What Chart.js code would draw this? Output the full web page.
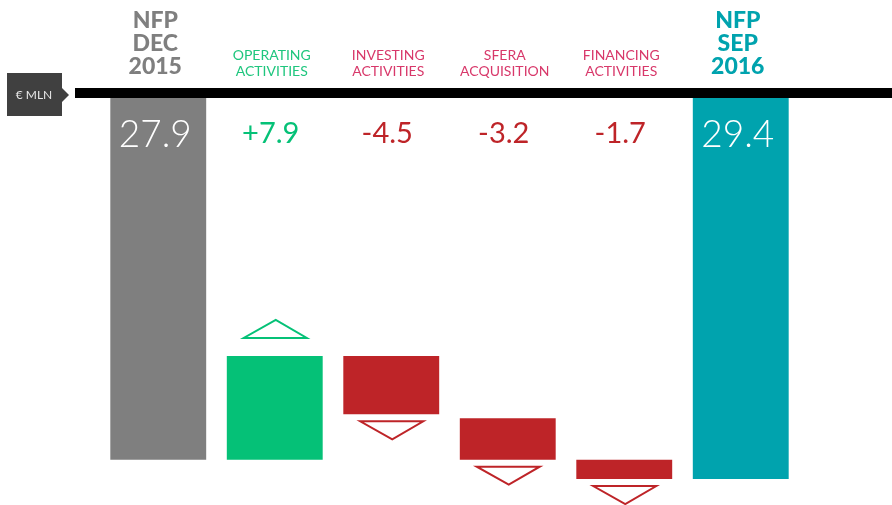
<!DOCTYPE html>
<html>
<head>
<meta charset="utf-8">
<script src="https://cdn.jsdelivr.net/npm/chart.js@4.4.1/dist/chart.umd.min.js"></script>
<style>
    html, body { margin: 0; padding: 0; background: #fff; }
    #wrap { width: 892px; height: 505px; position: relative; }
</style>
</head>
<body>
<div id="wrap"><canvas id="nfpChart"></canvas></div>
<script>
// header text above the black line, one array of lines per category
const categories = ['NFP DEC 2015', 'OPERATING ACTIVITIES', 'INVESTING ACTIVITIES', 'SFERA ACQUISITION', 'FINANCING ACTIVITIES', 'NFP SEP 2016'];
const headerLines = [
    ['NFP', 'DEC', '2015'],
    ['OPERATING', 'ACTIVITIES'],
    ['INVESTING', 'ACTIVITIES'],
    ['SFERA', 'ACQUISITION'],
    ['FINANCING', 'ACTIVITIES'],
    ['NFP', 'SEP', '2016']
];
const valueLabels = ['27.9', '+7.9', '-4.5', '-3.2', '-1.7', '29.4'];
// floating bars, € mln, axis runs downward from the black line
const barStart = [0, 19.9, 19.9, 24.7, 27.9, 0];
const barEnd = [27.9, 27.9, 24.4, 27.9, 29.4, 29.4];
const arrows = ['', 'up', 'down', 'down', 'down', ''];

const GRAY = '#7f7f7f';
const GREEN = '#05c177';
const RED = '#be2428';
const PINK = '#d8386a';
const TEAL = '#00a3ae';
const FONT = 'Lato, "Noto Sans", sans-serif';

const barColors = [GRAY, GREEN, RED, RED, RED, TEAL];
const headerColors = [GRAY, '#1fc67e', PINK, PINK, PINK, TEAL];
const valueColors = ['#ffffff', GREEN, RED, RED, RED, '#ffffff'];

const decorPlugin = {
    id: 'decor',
    beforeDatasetsDraw(chart) {
        const ctx = chart.ctx;
        ctx.save();
        // black base line
        ctx.fillStyle = '#000';
        ctx.fillRect(75, 88, chart.width - 75, 10);
        // unit tag
        ctx.fillStyle = '#404040';
        ctx.fillRect(7, 73, 55, 43);
        ctx.beginPath();
        ctx.moveTo(62, 88);
        ctx.lineTo(69, 95);
        ctx.lineTo(62, 102);
        ctx.closePath();
        ctx.fill();
        ctx.fillStyle = '#e6e6e6';
        ctx.font = '12px ' + FONT;
        ctx.textAlign = 'center';
        ctx.textBaseline = 'middle';
        ctx.fillText('€ MLN', 34, 95);
        ctx.restore();
    },
    afterDatasetsDraw(chart) {
        const ctx = chart.ctx;
        const bars = chart.getDatasetMeta(0).data;
        ctx.save();
        ctx.textAlign = 'center';
        ctx.textBaseline = 'alphabetic';
        bars.forEach((bar, i) => {
            const x = bar.x - 3;
            const lines = headerLines[i];
            ctx.fillStyle = headerColors[i];
            if (lines.length === 3) {
                ctx.font = '900 23px ' + FONT;
                lines.forEach((t, k) => ctx.fillText(t, x, 28 + k * 23));
            } else {
                ctx.font = '14px ' + FONT;
                lines.forEach((t, k) => ctx.fillText(t, x, 60 + k * 16));
            }
            // value label
            ctx.fillStyle = valueColors[i];
            if (i === 0 || i === bars.length - 1) {
                ctx.font = '300 37px ' + FONT;
                ctx.fillText(valueLabels[i], x, 147);
            } else {
                ctx.font = '29px ' + FONT;
                ctx.fillText(valueLabels[i], x - 1, 143);
            }
            // outline arrows
            if (arrows[i]) {
                const top = Math.min(bar.y, bar.base);
                const bottom = Math.max(bar.y, bar.base);
                ctx.strokeStyle = barColors[i];
                ctx.lineWidth = 2;
                ctx.beginPath();
                if (arrows[i] === 'up') {
                    const b = top - 18;
                    ctx.moveTo(bar.x - 31, b);
                    ctx.lineTo(bar.x + 32, b);
                    ctx.lineTo(bar.x + 1, b - 18);
                } else {
                    const t = bottom + 7;
                    ctx.moveTo(bar.x - 31, t);
                    ctx.lineTo(bar.x + 32, t);
                    ctx.lineTo(bar.x + 1, t + 18);
                }
                ctx.closePath();
                ctx.stroke();
            }
        });
        ctx.restore();
    }
};

new Chart(document.getElementById('nfpChart'), {
    type: 'bar',
    data: {
        labels: categories,
        datasets: [{
            data: barStart.map((s, i) => [s, barEnd[i]]),
            backgroundColor: barColors,
            borderWidth: 0,
            barPercentage: 0.823,
            categoryPercentage: 1
        }]
    },
    options: {
        responsive: true,
        maintainAspectRatio: false,
        animation: false,
        layout: { padding: { top: 98, left: 100, right: 93, bottom: 0 } },
        scales: {
            x: { display: false },
            y: { display: false, min: 0, max: 31.4, reverse: true }
        },
        plugins: {
            legend: { display: false },
            tooltip: { enabled: false }
        }
    },
    plugins: [decorPlugin]
});
</script>
</body>
</html>
